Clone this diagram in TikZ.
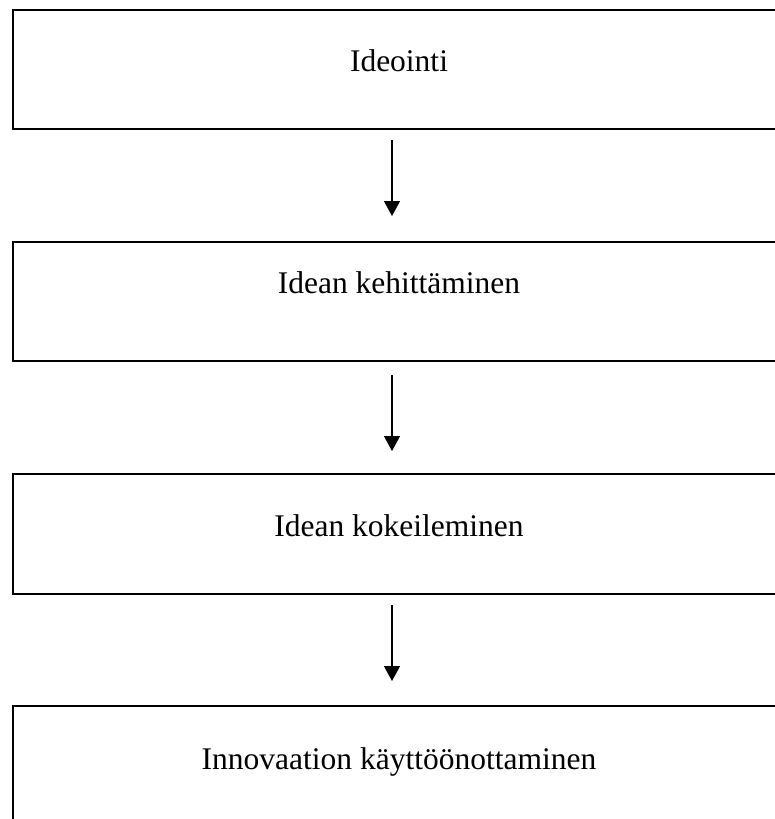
\documentclass[tikz,border=0pt]{standalone}
\usepackage{fontspec}
\setmainfont{Liberation Serif}
\usetikzlibrary{arrows.meta}
\begin{document}
\begin{tikzpicture}[x=1pt,y=-1pt,
  box/.style={draw, line width=2pt, minimum width=774pt, inner sep=0pt, anchor=north west},
  lbl/.style={font=\fontsize{31.5}{36}\selectfont, anchor=base, inner sep=0pt},
  arr/.style={line width=1.3pt, -{Triangle[width=16pt,length=15pt]}}]
\useasboundingbox (0,0) rectangle (775,819);
\clip (0,0) rectangle (775,819);
\node[box, minimum height=119pt] (b1) at (12,9) {};
\node[box, minimum height=119pt] (b2) at (12,241) {};
\node[box, minimum height=120pt] (b3) at (12,473) {};
\node[box, minimum height=130pt] (b4) at (12,705) {};
\node[lbl] (t1) at (399,71) {Ideointi};
\node[lbl] (t2) at (399,293) {Idean kehittäminen};
\node[lbl] (t3) at (399,536) {Idean kokeileminen};
\node[lbl] (t4) at (399,769) {Innovaation käyttöönottaminen};
\draw[arr] ([xshift=-8pt,yshift=-10pt]b1.south) -- ([xshift=-8pt,yshift=25pt]b2.north);
\draw[arr] ([xshift=-8pt,yshift=-13pt]b2.south) -- ([xshift=-8pt,yshift=22pt]b3.north);
\draw[arr] ([xshift=-8pt,yshift=-10pt]b3.south) -- ([xshift=-8pt,yshift=24pt]b4.north);
\end{tikzpicture}
\end{document}
